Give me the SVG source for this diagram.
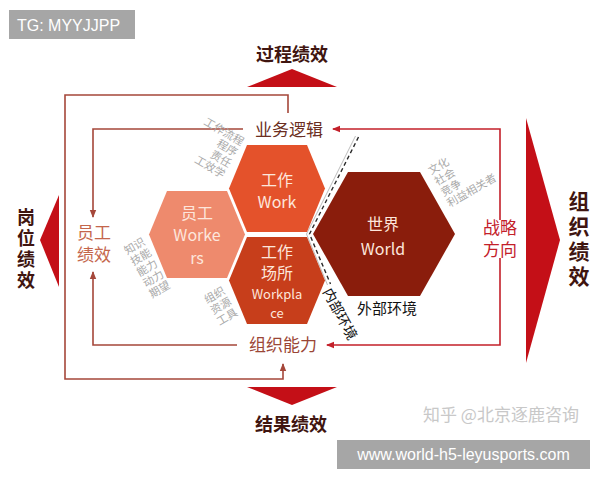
<svg xmlns="http://www.w3.org/2000/svg" width="600" height="480" viewBox="0 0 600 480">
<style>
text{font-family:"Noto Sans CJK SC","Noto Sans",sans-serif}
.hx{font-size:16px;fill:#fde6dc;text-anchor:middle}
.lbl{font-size:17px;text-anchor:middle}
.big{font-size:18px;font-weight:bold;fill:#3f1510;text-anchor:middle}
.vert{font-weight:bold;fill:#3f1510;writing-mode:vertical-rl;text-orientation:upright}
.note{font-size:11px;fill:#a9a9a9}
.frame{fill:none;stroke:#a5473a;stroke-width:1.6}
.red{fill:none;stroke:#c3202a;stroke-width:1.6}
.tri{fill:#c40f17}
.wm{font-family:"Liberation Sans",Arial,sans-serif;fill:#fff}
</style>
<defs>
<marker id="arrB" viewBox="0 0 8 8" refX="7" refY="4" markerWidth="8" markerHeight="8" markerUnits="userSpaceOnUse" orient="auto"><path d="M0,0.8 L8,4 L0,7.2 z" fill="#a5473a"/></marker>
<marker id="arrR" viewBox="0 0 8 8" refX="7" refY="4" markerWidth="8" markerHeight="8" markerUnits="userSpaceOnUse" orient="auto"><path d="M0,0.8 L8,4 L0,7.2 z" fill="#c3202a"/></marker>
</defs>
<rect width="600" height="480" fill="#fff"/>

<g id="tg-badge"><rect x="9" y="10" width="126" height="29" fill="#a6a6a6"/><text class="wm" x="17" y="31" font-size="16">TG: MYYJJPP</text></g>

<g id="triangles">
<polygon class="tri" points="247,87 337,87 292,69"/>
<polygon class="tri" points="247,387 337,387 292,405"/>
<polygon class="tri" points="59,195 59,287 40,240"/>
<polygon class="tri" points="526,118 526,363 560,240"/>
</g>

<g id="connectors">
<path class="frame" d="M288,113 V95 H65 V379 H283 V364" marker-end="url(#arrB)"/>
<path class="frame" d="M243,129 H93 V217" marker-end="url(#arrB)"/>
<path class="frame" d="M237,345 H93 V272" marker-end="url(#arrB)"/>
<path class="red" d="M500,220 V129 H333" marker-end="url(#arrR)"/>
<path class="red" d="M500,258 V345 H327" marker-end="url(#arrR)"/>
<path d="M355.5,136 L306.5,234 L327.5,285" fill="none" stroke="#bdbdbd" stroke-width="1"/>
<path d="M358.5,137 L309.5,234 L330.5,284" fill="none" stroke="#2a2a2a" stroke-width="1.4" stroke-dasharray="4 3"/>
</g>

<g id="guo-cheng"><text class="big" x="292" y="61">过程绩效</text></g>
<g id="jie-guo"><text class="big" x="291" y="431">结果绩效</text></g>
<g id="gang-wei"><text class="vert" x="26" y="208" font-size="18" letter-spacing="3">岗位绩效</text></g>
<g id="zu-zhi-jx"><text class="vert" x="579" y="191" font-size="21" letter-spacing="4">组织绩效</text></g>

<g id="ye-wu"><text class="lbl" x="289" y="136" font-size="18" fill="#6b2e22">业务逻辑</text></g>
<g id="zu-zhi-nl"><text class="lbl" x="283" y="351" fill="#9b4636">组织能力</text></g>
<g id="yuan-gong"><text class="lbl" fill="#c4664c"><tspan x="94" y="239">员工</tspan><tspan x="94" y="261">绩效</tspan></text></g>
<g id="zhan-lue"><text class="lbl" fill="#c3202a"><tspan x="500" y="234">战略</tspan><tspan x="500" y="256">方向</tspan></text></g>

<g id="work"><polygon points="229,188.5 247,145 307,145 325,188.5 307,232 247,232" fill="#e4522b"/><text class="hx"><tspan x="277" y="186">工作</tspan><tspan x="277" y="208">Work</tspan></text></g>
<g id="workers"><polygon points="149,234.5 167,191 227,191 245,234.5 227,278 167,278" fill="#ee8a6d"/><text class="hx"><tspan x="197" y="219">员工</tspan><tspan x="197" y="241">Worke</tspan><tspan x="197" y="264">rs</tspan></text></g>
<g id="workplace"><polygon points="229,280.5 247,237 307,237 325,280.5 307,324 247,324" fill="#c73e1b"/><text class="hx" font-size="14"><tspan x="277" y="258">工作</tspan><tspan x="277" y="279">场所</tspan><tspan x="277" y="299" font-size="13">Workpla</tspan><tspan x="277" y="318" font-size="13">ce</tspan></text></g>
<g id="world"><polygon points="313,234 348,172 420,172 455,234 420,296 348,296" fill="#8a1d0c"/><text class="hx" font-size="20"><tspan x="383" y="230">世界</tspan><tspan x="383" y="255">World</tspan></text></g>

<g id="notes-work"><text class="note" transform="translate(241,146) rotate(30)" text-anchor="end"><tspan x="0" y="0">工作流程</tspan><tspan x="0" y="12.5">程序</tspan><tspan x="0" y="25">责任</tspan><tspan x="0" y="37.5">工效学</tspan></text></g>
<g id="notes-workers"><text class="note" transform="translate(127,255) rotate(-30)"><tspan x="0" y="0">知识</tspan><tspan x="0" y="12.5">技能</tspan><tspan x="0" y="25">能力</tspan><tspan x="0" y="37.5">动力</tspan><tspan x="0" y="50">期望</tspan></text></g>
<g id="notes-workplace"><text class="note" transform="translate(207,304) rotate(-30)"><tspan x="0" y="0">组织</tspan><tspan x="0" y="12.5">资源</tspan><tspan x="0" y="25">工具</tspan></text></g>
<g id="notes-world"><text class="note" transform="translate(431,175) rotate(-30)"><tspan x="0" y="0">文化</tspan><tspan x="0" y="12.5">社会</tspan><tspan x="0" y="25">竞争</tspan><tspan x="0" y="37.5">利益相关者</tspan></text></g>

<g id="nei-bu"><text transform="translate(340,314) rotate(62)" font-size="14" fill="#111" text-anchor="middle" dy="5">内部环境</text></g>
<g id="wai-bu"><text x="387" y="314" font-size="15" fill="#111" text-anchor="middle">外部环境</text></g>

<g id="zhihu-mark"><text x="501" y="421" font-size="17" fill="#c8c8c8" text-anchor="middle">知乎 @北京逐鹿咨询</text></g>
<g id="url-badge"><rect x="337" y="440" width="253" height="29" fill="#a6a6a6"/><text class="wm" x="463.5" y="460" font-size="16" text-anchor="middle">www.world-h5-leyusports.com</text></g>
</svg>
